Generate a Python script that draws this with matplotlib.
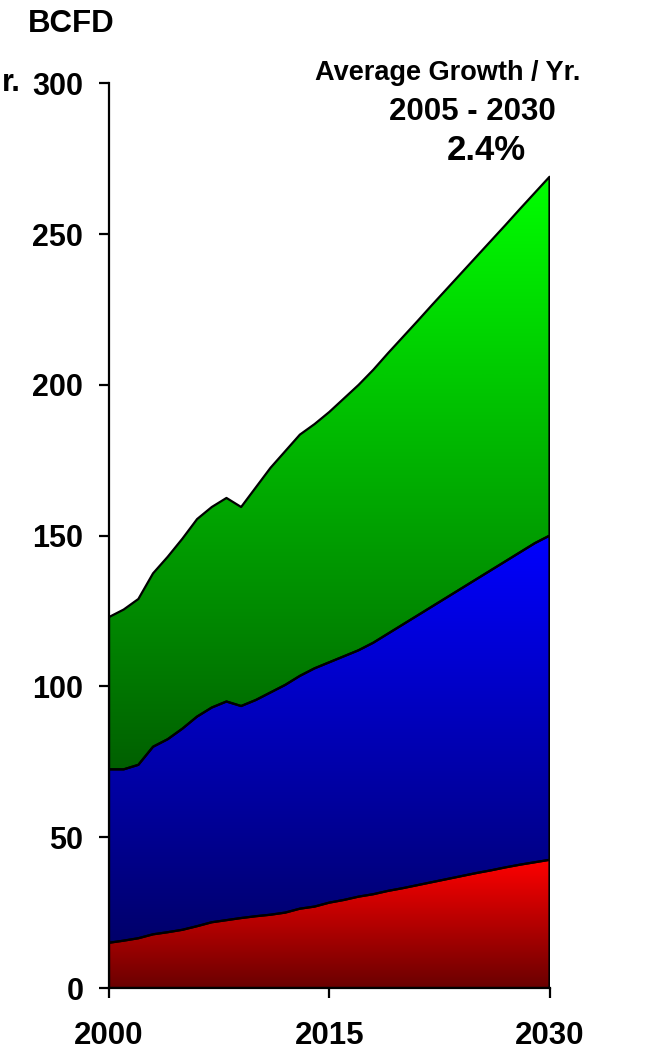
import numpy as np
import matplotlib
matplotlib.use("Agg")
import matplotlib.pyplot as plt
from matplotlib.colors import LinearSegmentedColormap

plt.rcParams['font.family'] = ['Liberation Sans', 'DejaVu Sans']
plt.rcParams['font.weight'] = 'bold'

years = list(range(2000, 2031))
# layer values (BCFD), bottom to top
red_vals = [15, 15.7, 16.5, 17.8, 18.5, 19.3, 20.5, 21.8, 22.5, 23.2, 23.8, 24.3, 25, 26.3, 27,
            28.3, 29.2, 30.3, 31.1, 32.2, 33.1, 34.1, 35.1, 36.1, 37.1, 38.1, 39, 40, 40.9, 41.7, 42.5]
blue_vals = [57.5, 56.8, 57.5, 62.2, 64, 66.7, 69.5, 71.2, 72.5, 70.3, 71.7, 73.7, 75.5, 77.2, 79,
             79.7, 80.8, 81.7, 83.4, 85.3, 87.4, 89.4, 91.4, 93.4, 95.4, 97.4, 99.5, 101.5, 103.6, 105.8, 107.5]
green_vals = [50.5, 53, 55, 57.5, 60.5, 63, 65.5, 66.5, 67.5, 66, 70.5, 74.5, 77.5, 80, 81,
              83, 85.5, 88, 90.5, 93, 95.3, 97.6, 100, 102.3, 104.6, 106.9, 109.2, 111.5, 113.9, 116.2, 119]
x_ticks = [2000, 2015, 2030]
y_ticks = [0, 50, 100, 150, 200, 250, 300]

W, H = 653, 1052
fig = plt.figure(figsize=(W / 100, H / 100), dpi=100)
ax = fig.add_axes([109 / W, 1 - 988 / H, (549.5 - 109) / W, (988 - 83.3) / H])

x = np.array(years, dtype=float)
r = np.array(red_vals)
b = np.array(blue_vals)
g = np.array(green_vals)
layers = [
    (np.zeros_like(r), r, '#6a0000', '#ff0000'),
    (r, r + b, '#00006a', '#0000ff'),
    (r + b, r + b + g, '#006000', '#00ff00'),
]

grad = np.linspace(0, 1, 512).reshape(-1, 1)
for lo, hi, c0, c1 in layers:
    poly = ax.fill_between(x, lo, hi, facecolor='none', edgecolor='black', linewidth=1.6, zorder=3)
    cmap = LinearSegmentedColormap.from_list('g', [c0, c1])
    im = ax.imshow(grad, aspect='auto', cmap=cmap, origin='lower',
                   extent=[x[0], x[-1], lo.min(), hi.max()], zorder=2, interpolation='bilinear')
    im.set_clip_path(poly.get_paths()[0], transform=ax.transData)

ax.set_xlim(2000, 2030)
ax.set_ylim(0, 300)
ax.set_xticks(x_ticks)
ax.set_xticklabels([str(t) for t in x_ticks])
ax.set_yticks(y_ticks)
ax.set_yticklabels([str(t) for t in y_ticks])
for s in ['top', 'right']:
    ax.spines[s].set_visible(False)
for s in ['left', 'bottom']:
    ax.spines[s].set_linewidth(1.6)
    ax.spines[s].set_zorder(4)
ax.tick_params(axis='y', direction='out', length=7.5, width=1.6, pad=11, labelsize=22)
ax.tick_params(axis='x', direction='out', length=7.5, width=1.6, pad=16, labelsize=22.5)
for lab in ax.get_xticklabels() + ax.get_yticklabels():
    lab.set_fontweight('bold')

def ftext(px, py, s, size, ha='center'):
    fig.text(px / W, 1 - py / H, s, fontsize=size, fontweight='bold', ha=ha, va='center')

ftext(71, 24, 'BCFD', 22.5)
ftext(21, 83, 'r.', 22, ha='right')
ftext(448, 73, 'Average Growth / Yr.', 19.5)
ftext(472, 112, '2005 - 2030', 22.5)
ftext(486, 151, '2.4%', 25)

fig.savefig('out.png', dpi=100)
